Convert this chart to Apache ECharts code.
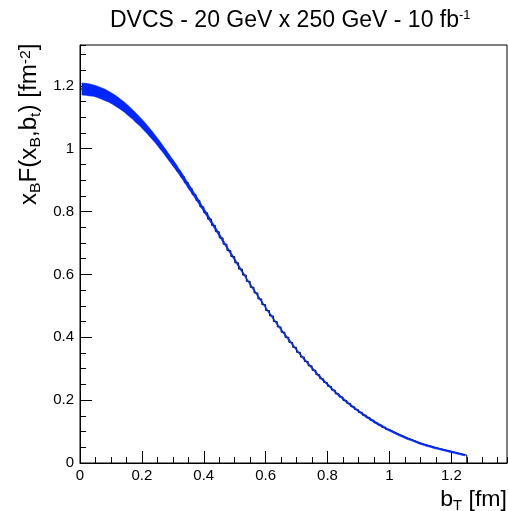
<!DOCTYPE html>
<html>
<head>
<meta charset="utf-8">
<script src="https://cdn.jsdelivr.net/npm/echarts@6/dist/echarts.min.js"></script>
<style>
  html, body { margin: 0; padding: 0; background: #fff; }
  #chart { width: 508px; height: 511px; }
</style>
</head>
<body>
<div id="chart"></div>
<script>
// Histogram binning of b_T [fm]
const binStart = 0;
const binWidth = 0.0125;

// x_B F(x_B, b_T) per bin [fm^-2]
const density = [
  1.190, 1.189, 1.187, 1.185, 1.181, 1.176, 1.171, 1.165, 1.158, 1.150,
  1.141, 1.132, 1.121, 1.110, 1.098, 1.086, 1.073, 1.059, 1.045, 1.030,
  1.014, 0.998, 0.981, 0.964, 0.947, 0.929, 0.911, 0.892, 0.873, 0.854,
  0.835, 0.815, 0.796, 0.776, 0.756, 0.736, 0.716, 0.696, 0.676, 0.657,
  0.637, 0.617, 0.598, 0.578, 0.559, 0.541, 0.522, 0.504, 0.485, 0.468,
  0.450, 0.433, 0.416, 0.400, 0.384, 0.368, 0.352, 0.337, 0.323, 0.309,
  0.295, 0.281, 0.268, 0.256, 0.244, 0.232, 0.220, 0.210, 0.199, 0.189,
  0.179, 0.170, 0.161, 0.152, 0.144, 0.136, 0.128, 0.121, 0.114, 0.107,
  0.101, 0.095, 0.089, 0.084, 0.078, 0.074, 0.069, 0.064, 0.060, 0.056,
  0.053, 0.049, 0.046, 0.043, 0.040, 0.037, 0.034, 0.031, 0.028, 0.025
];

// Statistical uncertainty per bin
const densityErr = [
  0.019, 0.019, 0.019, 0.018, 0.018, 0.018, 0.018, 0.017, 0.017, 0.017,
  0.016, 0.016, 0.016, 0.015, 0.015, 0.014, 0.014, 0.013, 0.013, 0.012,
  0.012, 0.011, 0.011, 0.010, 0.010, 0.009, 0.009, 0.008, 0.008, 0.007,
  0.007, 0.006, 0.006, 0.006, 0.005, 0.005, 0.005, 0.004, 0.004, 0.004,
  0.004, 0.004, 0.003, 0.003, 0.003, 0.003, 0.003, 0.003, 0.003, 0.003,
  0.003, 0.003, 0.003, 0.003, 0.003, 0.003, 0.003, 0.003, 0.003, 0.003,
  0.003, 0.003, 0.003, 0.003, 0.003, 0.003, 0.003, 0.003, 0.003, 0.003,
  0.003, 0.003, 0.003, 0.003, 0.003, 0.003, 0.003, 0.003, 0.003, 0.003,
  0.0025, 0.0025, 0.0025, 0.0025, 0.0025, 0.0025, 0.0025, 0.0025, 0.0025, 0.0025,
  0.0025, 0.0025, 0.0025, 0.0025, 0.0025, 0.0025, 0.0025, 0.0025, 0.0025, 0.0025
];

const xRange = [0, 1.38];
const yRange = [0, 1.33];
const majorStep = 0.2;
const minorStep = 0.05;

const FONT = '"Liberation Sans", Arial, Helvetica, sans-serif';
const BLUE = '#0026ff';

// Bin centres for the smooth uncertainty band
const centres = density.map((v, i) => binStart + (i + 0.5) * binWidth);

// Outline of the histogram as a step line through the bin edges
const outline = density.map((v, i) => [binStart + i * binWidth, v]);
outline.push([binStart + density.length * binWidth, density[density.length - 1]]);
outline.push([binStart + density.length * binWidth, 0]);

const tickLabelStyle = { fontFamily: FONT, fontSize: 15, color: '#000' };

function majorAxis(range, extra) {
  return Object.assign({
    type: 'value', min: range[0], max: range[1], interval: majorStep,
    axisLine: { show: true, lineStyle: { color: '#000', width: 1 } },
    axisTick: { show: true, inside: true, length: 12, lineStyle: { color: '#000', width: 1 } },
    splitLine: { show: false },
    axisLabel: Object.assign({ showMaxLabel: false, showMinLabel: true }, tickLabelStyle)
  }, extra);
}
function minorAxis(range, extra) {
  return Object.assign({
    type: 'value', min: range[0], max: range[1], interval: minorStep,
    axisLine: { show: false },
    axisTick: { show: true, inside: true, length: 6, lineStyle: { color: '#000', width: 1 } },
    splitLine: { show: false },
    axisLabel: { show: false }
  }, extra);
}

const chart = echarts.init(document.getElementById('chart'), null, { renderer: 'canvas' });
chart.setOption({
  animation: false,
  backgroundColor: '#fff',
  grid: {
    left: 80, top: 45, right: 1, bottom: 48,
    show: true, borderColor: '#000', borderWidth: 1, backgroundColor: 'transparent'
  },
  xAxis: [
    majorAxis(xRange, { position: 'bottom', axisLabel: Object.assign({ margin: 5, showMaxLabel: false }, tickLabelStyle) }),
    minorAxis(xRange, { position: 'bottom' })
  ],
  yAxis: [
    majorAxis(yRange, { position: 'left', axisLabel: Object.assign({ margin: 6, showMaxLabel: false }, tickLabelStyle) }),
    minorAxis(yRange, { position: 'left' })
  ],
  series: [
    {
      type: 'line',
      xAxisIndex: 0, yAxisIndex: 0,
      data: outline,
      step: 'end',
      showSymbol: false,
      lineStyle: { color: '#000', width: 1 },
      z: 2
    },
    {
      // Uncertainty band joined through the bin centres
      type: 'custom',
      xAxisIndex: 0, yAxisIndex: 0,
      data: [[centres[0], density[0]]],
      encode: { x: 0, y: 1 },
      z: 3,
      renderItem: function (params, api) {
        const upper = centres.map((c, i) => api.coord([c, density[i] + densityErr[i]]));
        const lower = centres.map((c, i) => api.coord([c, density[i] - densityErr[i]])).reverse();
        return {
          type: 'polygon',
          shape: { points: upper.concat(lower) },
          style: { fill: BLUE, stroke: BLUE, lineWidth: 0.6 }
        };
      }
    }
  ],
  graphic: [
    {
      type: 'text', x: 110, y: 9, silent: true,
      style: {
        text: '{t|DVCS - 20 GeV x 250 GeV - 10 fb}{s|-1}',
        align: 'left', verticalAlign: 'top',
        rich: {
          t: { fontFamily: FONT, fontSize: 23, lineHeight: 27, verticalAlign: 'top', fill: '#000' },
          s: { fontFamily: FONT, fontSize: 13, lineHeight: 13, verticalAlign: 'top', fill: '#000' }
        }
      }
    },
    {
      type: 'text', x: 18, y: 205, rotation: Math.PI / 2, scaleX: 1.05, silent: true,
      style: {
        text: '{m|x}{b|B}{m|F(x}{b|B}{m|,b}{b|t}{m|) [fm}{p|-2}{m|]}',
        align: 'left', verticalAlign: 'top',
        rich: {
          m: { fontFamily: FONT, fontSize: 23, lineHeight: 25, verticalAlign: 'top', fill: '#000' },
          b: { fontFamily: FONT, fontSize: 15, lineHeight: 15, padding: [13, 0, 0, 0], verticalAlign: 'bottom', fill: '#000' },
          p: { fontFamily: FONT, fontSize: 15, lineHeight: 15, verticalAlign: 'top', fill: '#000' }
        }
      }
    },
    {
      type: 'text', x: 507, y: 489, scaleX: 1.05, silent: true,
      style: {
        text: '{m|b}{b|T}{m| [fm]}',
        align: 'right', verticalAlign: 'top',
        rich: {
          m: { fontFamily: FONT, fontSize: 22, lineHeight: 24, verticalAlign: 'top', fill: '#000' },
          b: { fontFamily: FONT, fontSize: 14, lineHeight: 14, padding: [12, 0, 0, 0], verticalAlign: 'bottom', fill: '#000' }
        }
      }
    }
  ]
});
</script>
</body>
</html>
